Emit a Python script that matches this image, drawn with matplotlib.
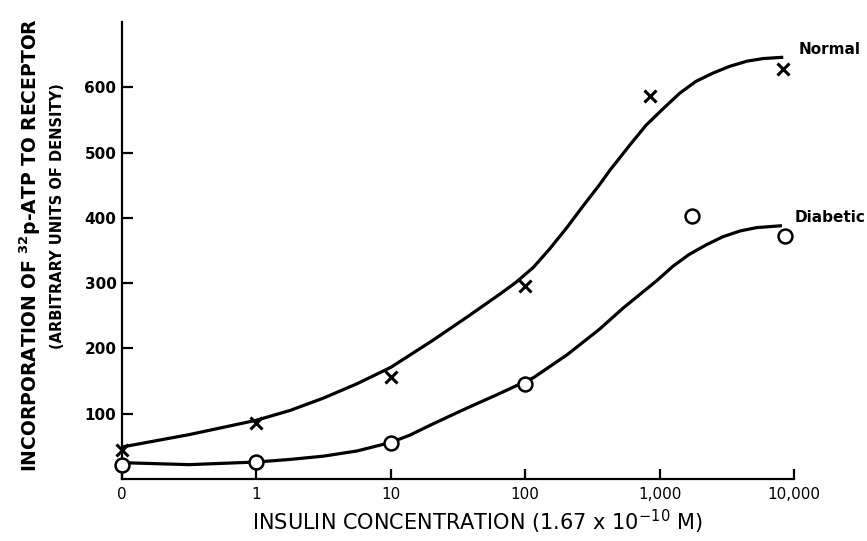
import numpy as np
import matplotlib
matplotlib.use("Agg")
import matplotlib.pyplot as plt

# ---- data (insulin concentration in units of 1.67e-10 M) ----
normal_conc = [0, 1, 10, 100, 850, 8300]
normal_vals = [44, 86, 157, 296, 586, 628]

diabetic_conc = [0, 1, 10, 100, 1750, 8500]
diabetic_vals = [21, 26, 55, 145, 403, 372]

# hand-drawn fitted curves
normal_curve_conc = [0, 0.5, 1, 1.78, 3.16, 5.62, 10, 20.4, 36.3, 64.6, 85.1,
                     114.8, 151.4, 204, 269, 355, 427, 603, 794, 1072, 1413,
                     1862, 2512, 3311, 4467, 5888, 8318]
normal_curve = [49, 68, 90, 105, 124, 146, 171, 212, 247, 283, 301,
                324, 352, 385, 418, 450, 473, 512, 542, 568, 591,
                609, 622, 632, 640, 644, 646]

diabetic_curve_conc = [0, 0.5, 1, 1.78, 3.16, 5.62, 10, 13.8, 20.4, 36.3, 64.6,
                       114.8, 204, 355, 537, 955, 1259, 1660, 2239, 2951,
                       3981, 5248, 8128]
diabetic_curve = [25, 22, 26, 30, 35, 43, 56, 67, 84, 108, 131,
                  155, 190, 229, 262, 304, 326, 344, 359, 371,
                  380, 385, 388]

xtick_vals = [0, 1, 10, 100, 1000, 10000]
xtick_labels = ["0", "1", "10", "100", "1,000", "10,000"]
ytick_vals = [100, 200, 300, 400, 500, 600]

fig = plt.figure(figsize=(8.67, 5.41), dpi=100)
ax = fig.add_axes([122/867, 1 - 479/541, 672/867, 457/541])

ax.set_xscale("symlog", linthresh=1, linscale=0.9)
ax.set_xlim(0, 10000)
ax.set_ylim(0, 700)

ax.plot(normal_curve_conc, normal_curve, color="black", lw=2.3,
        solid_capstyle="butt", solid_joinstyle="round", zorder=2)
ax.plot(diabetic_curve_conc, diabetic_curve, color="black", lw=2.3,
        solid_capstyle="butt", solid_joinstyle="round", zorder=2)

ax.plot(normal_conc, normal_vals, linestyle="none", marker="x", ms=8,
        mew=2.2, color="black", zorder=3, clip_on=False)
ax.plot(diabetic_conc, diabetic_vals, linestyle="none", marker="o", ms=10,
        mew=1.8, mec="black", mfc="white", zorder=3, clip_on=False)

for s in ["top", "right"]:
    ax.spines[s].set_visible(False)
for s in ["left", "bottom"]:
    ax.spines[s].set_linewidth(1.6)

ax.set_xticks(xtick_vals)
ax.set_xticklabels(xtick_labels, fontsize=11)
ax.xaxis.set_minor_locator(matplotlib.ticker.NullLocator())
ax.set_yticks(ytick_vals)
ax.set_yticklabels([str(v) for v in ytick_vals], fontsize=11, fontweight="bold")
ax.tick_params(axis="x", direction="in", length=7, width=1.6, pad=6)
ax.tick_params(axis="y", direction="in", length=8, width=1.6, pad=4)

fig.text(799/867, 1 - 49/541, "Normal", fontsize=11, fontweight="bold",
         ha="left", va="center")
fig.text(795/867, 1 - 218/541, "Diabetic", fontsize=11, fontweight="bold",
         ha="left", va="center")

fig.text(477/867, 1 - 522/541, r"INSULIN CONCENTRATION (1.67 x 10$^{-10}$ M)",
         fontsize=15, ha="center", va="center")
fig.text(30/867, 1 - 245/541, r"INCORPORATION OF $^{\mathbf{32}}$p-ATP TO RECEPTOR",
         fontsize=13.5, fontweight="bold", rotation=90, ha="center", va="center")
fig.text(58/867, 1 - 216/541, "(ARBITRARY UNITS OF DENSITY)",
         fontsize=10.5, fontweight="bold", rotation=90, ha="center", va="center")

fig.savefig("out.png", dpi=100)
